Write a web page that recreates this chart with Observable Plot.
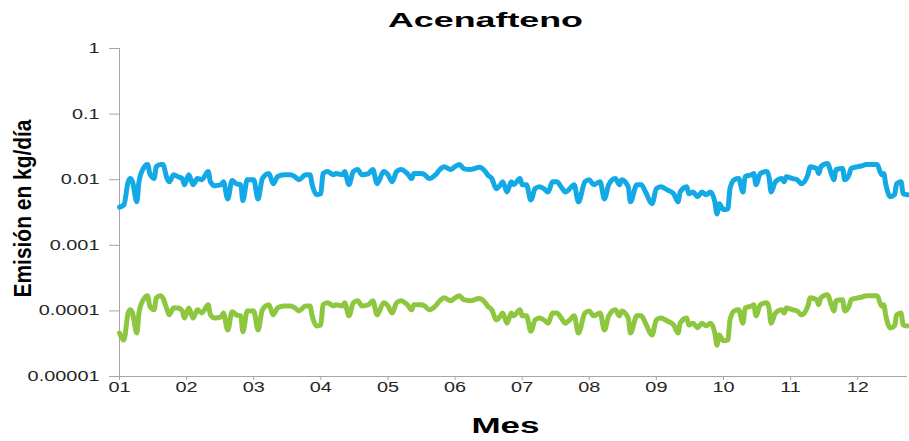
<!DOCTYPE html>
<html><head><meta charset="utf-8">
<script src="https://cdn.jsdelivr.net/npm/d3@7"></script>
<script src="https://cdn.jsdelivr.net/npm/@observablehq/plot@0.6"></script>
<style>
body{margin:0;background:#fff;}
#chart svg text{font-family:"Liberation Sans",Arial,sans-serif;}
</style></head><body><div id="chart"></div>
<script>
const chartTitle = "Acenafteno";
const xTitle = "Mes";
const yTitle = "Emisión en kg/día";
const monthTickDays = [1,32,63,94,125,156,187,218,249,280,311,342];
const monthTickLabels = ["01","02","03","04","05","06","07","08","09","10","11","12"];
const yTicks = [1,0.1,0.01,0.001,0.0001,0.00001];
const yTickLabels = ["1","0.1","0.01","0.001","0.0001","0.00001"];
const seriesNames = ["Serie azul","Serie verde"];

const days = [
1,3,5,6,7,9,10,12,14,15,
17,18,20,21,23,24,26,28,30,31,
33,35,37,39,42,43,45,48,49,51,
53,55,57,58,60,63,65,67,70,72,
74,77,80,82,84,87,89,90,92,94,
95,97,100,101,104,105,107,109,111,113,
116,118,120,123,125,127,129,131,134,136,
137,140,142,144,147,149,151,154,156,158,
160,163,165,167,170,171,173,175,177,178,
180,182,183,186,187,189,191,193,195,197,
199,201,203,205,207,209,211,213,216,218,
220,223,225,227,230,232,233,236,237,240,
242,244,247,249,251,254,257,259,260,263,
264,266,268,270,272,274,276,277,278,280,
282,283,285,287,289,290,293,294,295,297,
300,301,302,304,307,308,309,312,314,316,
319,320,323,324,325,328,330,331,332,335,
336,338,339,342,344,346,349,351,353,354,
355,357,359,360,362,363,365];

const serieAzul = [
0.0038,0.0041,0.0093,0.0104,0.0093,0.0046,0.0093,0.0148,0.0170,0.0124,
0.0104,0.0158,0.0170,0.0170,0.0104,0.0093,0.0119,0.0111,0.0104,0.0084,
0.0119,0.0084,0.0104,0.0100,0.0133,0.0093,0.0081,0.0084,0.0093,0.0051,
0.0097,0.0087,0.0084,0.0048,0.0100,0.0100,0.0051,0.0104,0.0124,0.0087,
0.0111,0.0119,0.0119,0.0111,0.0100,0.0119,0.0119,0.0084,0.0059,0.0061,
0.0124,0.0133,0.0119,0.0124,0.0119,0.0133,0.0084,0.0133,0.0143,0.0119,
0.0124,0.0143,0.0087,0.0133,0.0119,0.0093,0.0133,0.0143,0.0124,0.0104,
0.0124,0.0124,0.0119,0.0104,0.0119,0.0143,0.0158,0.0143,0.0158,0.0170,
0.0148,0.0143,0.0148,0.0155,0.0133,0.0119,0.0104,0.0073,0.0084,0.0093,
0.0065,0.0093,0.0084,0.0104,0.0084,0.0084,0.0049,0.0073,0.0078,0.0073,
0.0065,0.0093,0.0093,0.0078,0.0065,0.0073,0.0084,0.0046,0.0093,0.0100,
0.0084,0.0093,0.0051,0.0084,0.0104,0.0084,0.0100,0.0078,0.0046,0.0084,
0.0084,0.0065,0.0043,0.0073,0.0078,0.0070,0.0061,0.0046,0.0065,0.0078,
0.0061,0.0065,0.0055,0.0065,0.0059,0.0065,0.0046,0.0030,0.0043,0.0035,
0.0036,0.0073,0.0100,0.0104,0.0065,0.0111,0.0119,0.0124,0.0084,0.0124,
0.0133,0.0111,0.0065,0.0093,0.0104,0.0093,0.0111,0.0104,0.0100,0.0087,
0.0119,0.0158,0.0148,0.0124,0.0158,0.0176,0.0119,0.0100,0.0143,0.0148,
0.0100,0.0119,0.0148,0.0158,0.0163,0.0170,0.0170,0.0170,0.0119,0.0124,
0.0084,0.0055,0.0059,0.0087,0.0093,0.0061,0.0059];

const serieVerde = [
4.6e-5,3.6e-5,9.3e-5,1.04e-4,9.3e-5,4.6e-5,9.3e-5,1.48e-4,1.70e-4,1.19e-4,
1.04e-4,1.58e-4,1.70e-4,1.58e-4,1.04e-4,8.7e-5,1.11e-4,1.11e-4,1.00e-4,7.8e-5,
1.11e-4,7.8e-5,1.04e-4,9.3e-5,1.24e-4,8.7e-5,7.8e-5,8.1e-5,9.3e-5,5.1e-5,
9.7e-5,8.7e-5,8.4e-5,4.8e-5,1.00e-4,1.00e-4,5.1e-5,1.04e-4,1.24e-4,8.7e-5,
1.11e-4,1.19e-4,1.19e-4,1.11e-4,1.00e-4,1.19e-4,1.19e-4,8.4e-5,5.9e-5,6.1e-5,
1.24e-4,1.33e-4,1.19e-4,1.24e-4,1.19e-4,1.33e-4,8.4e-5,1.33e-4,1.43e-4,1.19e-4,
1.24e-4,1.43e-4,8.7e-5,1.33e-4,1.19e-4,9.3e-5,1.33e-4,1.43e-4,1.24e-4,1.04e-4,
1.24e-4,1.24e-4,1.19e-4,1.04e-4,1.19e-4,1.43e-4,1.58e-4,1.43e-4,1.58e-4,1.70e-4,
1.48e-4,1.43e-4,1.48e-4,1.55e-4,1.33e-4,1.19e-4,1.04e-4,7.3e-5,8.4e-5,9.3e-5,
6.5e-5,9.3e-5,8.4e-5,1.04e-4,8.4e-5,8.4e-5,4.9e-5,7.3e-5,7.8e-5,7.3e-5,
6.5e-5,9.3e-5,9.3e-5,7.8e-5,6.5e-5,7.3e-5,8.4e-5,4.6e-5,9.3e-5,1.00e-4,
8.4e-5,9.3e-5,5.1e-5,8.4e-5,1.04e-4,8.4e-5,1.00e-4,7.8e-5,4.6e-5,8.4e-5,
8.4e-5,6.5e-5,4.3e-5,7.3e-5,7.8e-5,7.0e-5,6.1e-5,4.6e-5,6.5e-5,7.8e-5,
6.1e-5,6.5e-5,5.5e-5,6.5e-5,5.9e-5,6.5e-5,4.6e-5,3.0e-5,4.3e-5,3.5e-5,
3.6e-5,7.3e-5,1.00e-4,1.04e-4,6.5e-5,1.11e-4,1.19e-4,1.24e-4,8.4e-5,1.24e-4,
1.33e-4,1.11e-4,6.5e-5,9.3e-5,1.04e-4,9.3e-5,1.11e-4,1.04e-4,1.00e-4,8.7e-5,
1.19e-4,1.58e-4,1.48e-4,1.24e-4,1.58e-4,1.76e-4,1.19e-4,1.00e-4,1.43e-4,1.48e-4,
1.00e-4,1.19e-4,1.48e-4,1.58e-4,1.63e-4,1.70e-4,1.70e-4,1.70e-4,1.19e-4,1.24e-4,
8.4e-5,5.5e-5,5.9e-5,8.7e-5,9.3e-5,6.1e-5,5.9e-5];

const data = [];
days.forEach((d, i) => {
  data.push({day: d, value: serieAzul[i], serie: seriesNames[0]});
  data.push({day: d, value: serieVerde[i], serie: seriesNames[1]});
});

const axisGray = "#a6a6a6";
const textGray = "#262626";

const chart = Plot.plot({
  width: 909,
  height: 441,
  marginLeft: 119,
  marginRight: 2,
  marginTop: 48,
  marginBottom: 65,
  style: {background: "#fff", fontFamily: "Liberation Sans, Arial, sans-serif", overflow: "visible"},
  x: {domain: [1, 365], axis: null},
  y: {type: "log", domain: [0.00001, 1], axis: null},
  color: {domain: seriesNames, range: ["#13A9E6", "#8DC73F"]},
  marks: [
    Plot.ruleX([1], {stroke: axisGray, strokeWidth: 1}),
    Plot.ruleY([0.00001], {stroke: axisGray, strokeWidth: 1}),
    Plot.axisY(yTicks, {
      anchor: "left", tickSize: 10, tickPadding: 10, stroke: axisGray, fill: textGray,
      fontSize: 14, label: null,
      tickFormat: d => yTickLabels[yTicks.indexOf(d)]
    }),
    Plot.axisX(monthTickDays, {
      anchor: "bottom", tickSize: 4, tickPadding: 2, stroke: axisGray, fill: textGray,
      fontSize: 14, label: null,
      tickFormat: d => monthTickLabels[monthTickDays.indexOf(d)]
    }),
    Plot.line(data, {x: "day", y: "value", z: "serie", stroke: "serie", strokeWidth: 5, curve: "monotone-x"}),
    Plot.text([chartTitle], {text: d => d, frameAnchor: "top", lineAnchor: "middle", dy: -28, dx: -28, fontSize: 21, fontWeight: "bold", fill: "#000"}),
    Plot.text([xTitle], {text: d => d, frameAnchor: "bottom", lineAnchor: "middle", dy: 49, dx: -8, fontSize: 22, fontWeight: "bold", fill: "#000"}),
    Plot.text([yTitle], {text: d => d, frameAnchor: "left", textAnchor: "middle", lineAnchor: "middle", rotate: -90, dx: -96, dy: -4, fontSize: 24, fontWeight: "bold", fill: "#000"})
  ]
});

document.getElementById("chart").appendChild(chart);

// widen / narrow glyphs to match the reference's proportions
const fixedLengths = new Map([[chartTitle, 195], [xTitle, 68], [yTitle, 178]]);
chart.querySelectorAll("text").forEach(t => {
  const s = t.textContent;
  let target = null;
  if (fixedLengths.has(s)) target = fixedLengths.get(s);
  else if (yTickLabels.includes(s) || monthTickLabels.includes(s)) target = t.getComputedTextLength() * 1.42;
  if (target) {
    t.setAttribute("textLength", target.toFixed(1));
    t.setAttribute("lengthAdjust", "spacingAndGlyphs");
  }
});
</script>
</body></html>
